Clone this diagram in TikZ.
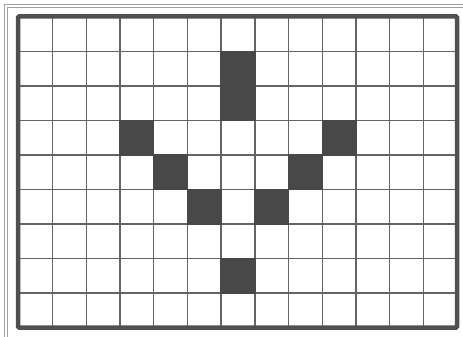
\documentclass[tikz,border=0pt]{standalone}
\definecolor{gridc}{RGB}{100,100,100}
\definecolor{cellc}{RGB}{72,72,72}
\definecolor{borderc}{RGB}{80,80,80}
\definecolor{framec}{RGB}{160,160,160}
\begin{document}
\begin{tikzpicture}[x=1pt,y=-1pt,
  gridline/.style={gridc,line width=1.4pt},
  cellfill/.style={fill=cellc},
  borderline/.style={draw=borderc,line width=4.5pt,rounded corners=1pt},
  frameline/.style={framec,line width=0.7pt}]
\useasboundingbox (0,0) rectangle (463,337);
\fill[white] (0,0) rectangle (463,337);
\def\cw{33.6923}
\def\ch{34.5}
% outer thin frame
\draw[frameline] (4.5,337) -- (4.5,4) -- (463,4);
\draw[frameline] (7.5,337) -- (7.5,7) -- (463,7);
% grid lines
\foreach \i in {1,...,12}
  \draw[gridline] ({19+\i*\cw},17) -- ({19+\i*\cw},327.5);
\foreach \j in {1,...,8}
  \draw[gridline] (19,{17+\j*\ch}) -- (457,{17+\j*\ch});
% dark cells (column, row, height in rows)
\foreach \c/\r/\n in {6/1/2,3/3/1,9/3/1,4/4/1,8/4/1,5/5/1,7/5/1,6/7/1}
  \fill[cellfill] ({19+\c*\cw-0.7},{17+\r*\ch-0.7}) rectangle ({19+(\c+1)*\cw+0.7},{17+(\r+\n)*\ch+0.7});
% thick border
\draw[borderline] (18,16.5) rectangle (457,327.5);
\end{tikzpicture}
\end{document}
